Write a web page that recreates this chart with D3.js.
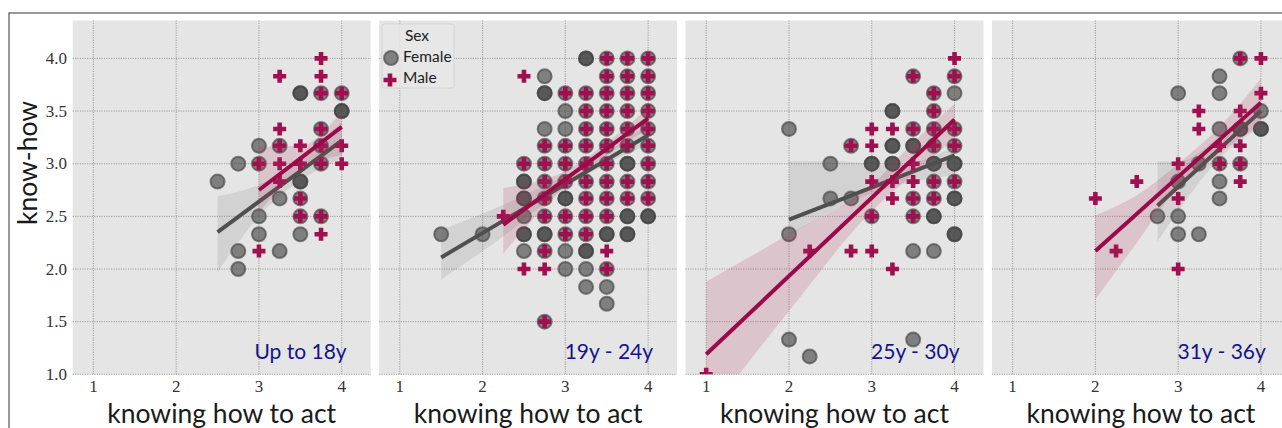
<!DOCTYPE html>
<html>
<head>
<meta charset="utf-8">
<script src="https://cdn.jsdelivr.net/npm/d3@7"></script>
<style>
  body { margin: 0; background: #fff; }
  svg { display: block; }
</style>
</head>
<body>
<svg id="chart" width="1282" height="428"></svg>
<script>
// Age-group facets
const panelLabels = ["Up to 18y", "19y - 24y", "25y - 30y", "31y - 36y"];
const xTicks = [1, 2, 3, 4];
const yTicks = [1.0, 1.5, 2.0, 2.5, 3.0, 3.5, 4.0];
const xTitle = "knowing how to act";
const yTitle = "know-how";
const legendTitle = "Sex";
const legendLabels = ["Female", "Male"];

// Female responses per facet: [knowing how to act, know-how, count]
const female = [
  [[3.5,3.67,2],[3.75,3.67,1],[4,3.67,1],[4,3.5,2],[3.75,3.33,1],[3,3.17,1],[3.25,3.17,1],[3.75,3.17,1],
   [2.75,3,1],[3,3,1],[3.75,3,1],[2.5,2.83,1],[3.5,2.83,2],[3.25,2.67,1],[3.5,2.67,1],[3,2.5,1],
   [3.5,2.5,1],[3.75,2.5,1],[3,2.33,1],[3.5,2.33,1],[2.75,2.17,1],[3.25,2.17,1],[2.75,2,1]],
  [[3.25,4,2],[3.5,4,1],[3.75,4,1],[4,4,1],
   [2.75,3.83,1],[3.5,3.83,1],[3.75,3.83,1],[4,3.83,1],
   [2.75,3.67,2],[3,3.67,1],[3.25,3.67,1],[3.5,3.67,1],[3.75,3.67,1],[4,3.67,1],
   [3,3.5,1],[3.25,3.5,1],[3.5,3.5,1],[3.75,3.5,1],[4,3.5,1],
   [2.75,3.33,1],[3,3.33,1],[3.25,3.33,1],[3.5,3.33,1],[3.75,3.33,1],[4,3.33,1],
   [2.75,3.17,1],[3,3.17,1],[3.25,3.17,1],[3.5,3.17,1],[3.75,3.17,1],[4,3.17,1],
   [2.5,3,1],[2.75,3,1],[3,3,1],[3.25,3,1],[3.5,3,1],[3.75,3,2],[4,3,1],
   [2.5,2.83,2],[2.75,2.83,1],[3,2.83,1],[3.25,2.83,1],[3.5,2.83,1],[3.75,2.83,1],[4,2.83,1],
   [2.5,2.67,2],[2.75,2.67,1],[3,2.67,2],[3.25,2.67,1],[3.5,2.67,1],[3.75,2.67,1],[4,2.67,1],
   [2.5,2.5,1],[2.75,2.5,1],[3,2.5,1],[3.25,2.5,1],[3.5,2.5,1],[3.75,2.5,2],[4,2.5,2],
   [1.5,2.33,1],[2,2.33,1],[2.5,2.33,2],[2.75,2.33,2],[3,2.33,1],[3.25,2.33,1],[3.5,2.33,2],[3.75,2.33,2],
   [2.5,2.17,1],[2.75,2.17,1],[3,2.17,1],[3.25,2.17,2],
   [3,2,1],[3.25,2,1],[3.5,2,1],
   [3.25,1.83,1],[3.5,1.83,1],[3.5,1.67,1],[2.75,1.5,1]],
  [[3.5,3.83,1],[4,3.83,1],[3.75,3.67,1],[4,3.67,1],[3.25,3.5,2],[3.75,3.5,1],[2,3.33,1],[3.5,3.33,1],
   [3.75,3.33,1],[4,3.33,1],[2.75,3.17,1],[3.25,3.17,2],[3.5,3.17,2],[3.75,3.17,1],[4,3.17,1],
   [2.5,3,1],[3,3,2],[3.25,3,2],[3.75,3,2],[4,3,2],[3.75,2.83,1],[4,2.83,1],[2.5,2.67,1],[2.75,2.67,1],
   [3.5,2.67,1],[3.75,2.67,1],[4,2.67,2],[3,2.5,1],[3.5,2.5,1],[3.75,2.5,2],[2,2.33,1],[4,2.33,2],
   [3.5,2.17,1],[3.75,2.17,1],[2,1.33,1],[3.5,1.33,1],[2.25,1.17,1]],
  [[3.75,4,1],[3.5,3.83,1],[3,3.67,1],[3.5,3.67,1],[4,3.5,1],[3.5,3.33,1],[3.75,3.33,2],[4,3.33,2],
   [3.25,3,1],[3.5,3,1],[3.75,3,1],[3,2.83,1],[3.5,2.83,1],[3.5,2.67,1],[2.75,2.5,1],[3,2.5,1],
   [3,2.33,1],[3.25,2.33,1]]
];

// Male responses per facet: [knowing how to act, know-how]
const male = [
  [[3.75,4],[3.25,3.83],[3.75,3.83],[3.75,3.67],[4,3.67],[3.25,3.33],[3.75,3.33],[3.25,3.17],[3.5,3.17],
   [3.75,3.17],[4,3.17],[3,3],[3.25,3],[3.5,3],[3.75,3],[4,3],[3.25,2.83],[3.5,2.67],[3.5,2.5],
   [3.75,2.5],[3.75,2.33],[3,2.17]],
  [[3.5,4],[3.75,4],[4,4],
   [2.5,3.83],[3.5,3.83],[3.75,3.83],[4,3.83],
   [3,3.67],[3.25,3.67],[3.5,3.67],[3.75,3.67],[4,3.67],
   [3.25,3.5],[3.5,3.5],[3.75,3.5],[4,3.5],
   [3.25,3.33],[3.5,3.33],[3.75,3.33],[4,3.33],
   [2.75,3.17],[3,3.17],[3.25,3.17],[3.5,3.17],[3.75,3.17],[4,3.17],
   [2.5,3],[2.75,3],[3,3],[3.25,3],[3.5,3],[4,3],
   [2.75,2.83],[3,2.83],[3.25,2.83],[3.5,2.83],[3.75,2.83],[4,2.83],
   [2.75,2.67],[3.25,2.67],[3.5,2.67],[3.75,2.67],[4,2.67],
   [2.25,2.5],[2.75,2.5],[3,2.5],[3.25,2.5],[3.5,2.5],
   [3,2.33],[3.25,2.33],[2.75,2.17],[3.5,2.17],[2.5,2],[2.75,2],[3.5,2],[2.75,1.5]],
  [[4,4],[3.5,3.83],[4,3.83],[3.75,3.67],[3.75,3.5],[3,3.33],[3.25,3.33],[3.5,3.33],[3.75,3.33],[4,3.33],
   [2.75,3.17],[3,3.17],[3.75,3.17],[4,3.17],[3.5,3],[3,2.83],[3.25,2.83],[3.5,2.83],[3.75,2.83],[4,2.83],
   [3.25,2.67],[3.5,2.67],[3.75,2.67],[3,2.5],[3.5,2.5],[2.25,2.17],[2.75,2.17],[3,2.17],[3.25,2],[1,1]],
  [[3.75,4],[4,4],[4,3.67],[3.25,3.5],[3.75,3.5],[3.25,3.33],[3.5,3.17],[3.75,3.17],[3,3],[3.5,3],
   [3.75,3],[2.5,2.83],[3.75,2.83],[2,2.67],[3,2.67],[2.25,2.17],[3,2]]
];

// Fitted regression lines: [[x0, y0], [x1, y1]]
const femaleFit = [
  [[2.5, 2.35], [4.0, 3.22]],
  [[1.5, 2.11], [4.0, 3.27]],
  [[2.0, 2.47], [4.0, 3.08]],
  [[2.75, 2.60], [4.0, 3.50]]
];
const maleFit = [
  [[3.0, 2.75], [4.0, 3.35]],
  [[2.25, 2.42], [4.0, 3.43]],
  [[1.0, 1.19], [4.0, 3.42]],
  [[2.0, 2.17], [4.0, 3.58]]
];

// Confidence bands: [x, lower, upper]
const femaleBand = [
  [[2.5, 1.97, 2.69], [3.0, 2.50, 2.80], [3.5, 2.84, 3.03], [4.0, 3.05, 3.40]],
  [[1.5, 1.90, 2.37], [2.25, 2.31, 2.61], [3.0, 2.77, 2.89], [3.5, 3.00, 3.11], [4.0, 3.18, 3.37]],
  [[2.0, 2.32, 3.02], [2.6, 2.58, 3.02], [3.25, 2.78, 2.98], [4.0, 2.89, 3.16]],
  [[2.75, 2.26, 3.02], [3.0, 2.55, 3.02], [3.5, 3.05, 3.26], [4.0, 3.35, 3.62]]
];
const maleBand = [
  [[3.0, 2.54, 3.16], [3.5, 2.94, 3.17], [4.0, 3.08, 3.50]],
  [[2.25, 2.15, 2.77], [3.0, 2.78, 2.93], [3.5, 3.08, 3.20], [4.0, 3.33, 3.53]],
  [[1.0, 0.60, 1.88], [2.0, 1.60, 2.33], [3.0, 2.55, 2.80], [3.5, 2.90, 3.20], [4.0, 3.24, 3.57]],
  [[2.0, 1.71, 2.51], [2.5, 2.25, 2.70], [3.0, 2.78, 3.00], [3.5, 3.10, 3.35], [4.0, 3.37, 3.81]]
];

const femaleColor = "#404040";
const maleColor = "#a0104f";
const femaleLine = "#4f4f4f";
const maleLine = "#9a0a47";

const svg = d3.select("#chart");
const panelW = 298, plotTop = 20.5, plotBottom = 374.3;
const panelX = i => 72.7 + i * 306.4;

// Outer frame
svg.append("rect").attr("x", 9).attr("y", 13).attr("width", 1300).attr("height", 440)
  .attr("fill", "none").attr("stroke", "#555").attr("stroke-width", 1.2);

const y = d3.scaleLinear().domain([1.0, 4.36]).range([plotBottom, plotTop]);

const plusPath = (() => {
  const a = 6.5, t = 2.3;
  return `M${-t},${-a}H${t}V${-t}H${a}V${t}H${t}V${a}H${-t}V${t}H${-a}V${-t}H${-t}Z`;
})();

panelLabels.forEach((label, i) => {
  const x0 = panelX(i);
  const x = d3.scaleLinear().domain([0.75, 4.35]).range([x0, x0 + panelW]);
  const g = svg.append("g");

  const clipId = "clip" + i;
  svg.append("clipPath").attr("id", clipId).append("rect")
    .attr("x", x0).attr("y", plotTop).attr("width", panelW).attr("height", plotBottom - plotTop);

  g.append("rect").attr("x", x0).attr("y", plotTop).attr("width", panelW).attr("height", plotBottom - plotTop)
    .attr("fill", "#e5e5e5");

  // grid
  g.selectAll(".vg").data(xTicks).join("line")
    .attr("x1", d => x(d)).attr("x2", d => x(d)).attr("y1", plotTop).attr("y2", plotBottom)
    .attr("stroke", "#8a8a8a").attr("stroke-width", 0.8).attr("stroke-dasharray", "1.2,1.2");
  g.selectAll(".hg").data(yTicks).join("line")
    .attr("x1", x0).attr("x2", x0 + panelW).attr("y1", d => y(d)).attr("y2", d => y(d))
    .attr("stroke", "#8a8a8a").attr("stroke-width", 0.8).attr("stroke-dasharray", "1.2,1.2");

  // x tick labels
  g.selectAll(".xt").data(xTicks).join("text")
    .attr("x", d => x(d)).attr("y", 392)
    .attr("text-anchor", "middle").attr("font-family", "Liberation Serif").attr("font-size", 17)
    .attr("fill", "#333").text(d => d);

  g.append("text").attr("x", x0 + panelW / 2).attr("y", 423)
    .attr("text-anchor", "middle").attr("font-family", "Lato").attr("font-size", 26.5)
    .attr("fill", "#1a1a1a").text(xTitle);

  const plot = g.append("g").attr("clip-path", `url(#${clipId})`);

  const area = d3.area().x(d => x(d[0])).y0(d => y(d[1])).y1(d => y(d[2])).curve(d3.curveMonotoneX);
  const line = d3.line().x(d => x(d[0])).y(d => y(d[1]));

  // female scatter
  const fPts = female[i].flatMap(d => d3.range(d[2]).map(() => d));
  plot.selectAll(".f").data(fPts).join("circle")
    .attr("cx", d => x(d[0])).attr("cy", d => y(d[1])).attr("r", 7)
    .attr("fill", femaleColor).attr("fill-opacity", 0.62)
    .attr("stroke", femaleColor).attr("stroke-opacity", 0.62).attr("stroke-width", 2);
  plot.append("path").datum(femaleBand[i]).attr("d", area).attr("fill", "#666").attr("fill-opacity", 0.15);
  plot.append("path").datum(femaleFit[i]).attr("d", line).attr("stroke", femaleLine)
    .attr("stroke-width", 4).attr("fill", "none");

  // male scatter
  plot.selectAll(".m").data(male[i]).join("path")
    .attr("transform", d => `translate(${x(d[0])},${y(d[1])})`).attr("d", plusPath)
    .attr("fill", maleColor);
  plot.append("path").datum(maleBand[i]).attr("d", area).attr("fill", "#b0305f").attr("fill-opacity", 0.18);
  plot.append("path").datum(maleFit[i]).attr("d", line).attr("stroke", maleLine)
    .attr("stroke-width", 4).attr("fill", "none");

  // facet label
  g.append("text").attr("x", x0 + panelW - 24).attr("y", 359)
    .attr("text-anchor", "end").attr("font-family", "Lato").attr("font-size", 21)
    .attr("fill", "#14148c").text(label);

  if (i === 0) {
    g.selectAll(".yt").data(yTicks).join("text")
      .attr("x", 67).attr("y", d => y(d)).attr("dy", "0.34em")
      .attr("text-anchor", "end").attr("font-family", "Liberation Serif").attr("font-size", 17)
      .attr("fill", "#333").text(d => d.toFixed(1));
    g.append("text").attr("transform", "translate(37,163) rotate(-90)")
      .attr("text-anchor", "middle").attr("font-family", "Lato").attr("font-size", 26.5)
      .attr("fill", "#1a1a1a").text(yTitle);
  }

  if (i === 1) {
    const lg = g.append("g");
    lg.append("rect").attr("x", 382).attr("y", 24).attr("width", 72).attr("height", 64).attr("rx", 2)
      .attr("fill", "#e8e8e8").attr("fill-opacity", 0.85).attr("stroke", "#cfcfcf").attr("stroke-width", 0.8);
    lg.append("text").attr("x", 417).attr("y", 41).attr("text-anchor", "middle")
      .attr("font-family", "Lato").attr("font-size", 15.5).attr("fill", "#222").text(legendTitle);
    lg.append("circle").attr("cx", 391).attr("cy", 58).attr("r", 7)
      .attr("fill", femaleColor).attr("fill-opacity", 0.62)
      .attr("stroke", femaleColor).attr("stroke-opacity", 0.62).attr("stroke-width", 2);
    lg.append("path").attr("transform", "translate(390,80)").attr("d", plusPath).attr("fill", maleColor);
    lg.append("text").attr("x", 403).attr("y", 62).attr("font-family", "Lato").attr("font-size", 15.5)
      .attr("fill", "#222").text(legendLabels[0]);
    lg.append("text").attr("x", 403).attr("y", 83).attr("font-family", "Lato").attr("font-size", 15.5)
      .attr("fill", "#222").text(legendLabels[1]);
  }
});
</script>
</body>
</html>
